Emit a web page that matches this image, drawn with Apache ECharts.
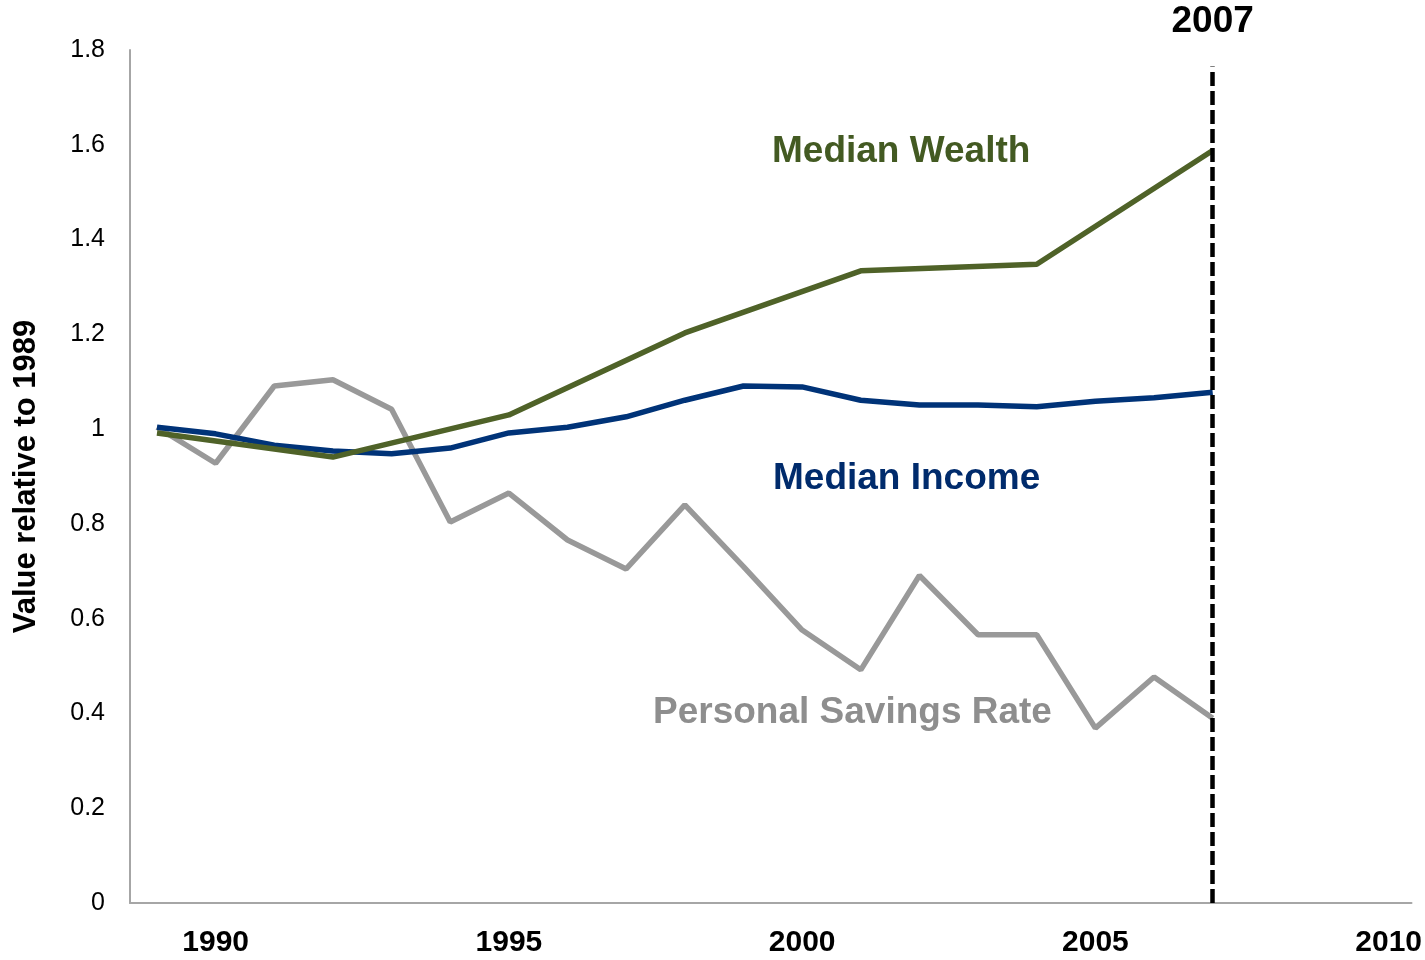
<!DOCTYPE html>
<html>
<head>
<meta charset="utf-8">
<title>Median Wealth, Median Income and Personal Savings Rate</title>
<script src="https://cdn.jsdelivr.net/npm/echarts@6/dist/echarts.min.js"></script>
<style>
  html, body { margin: 0; padding: 0; background: #ffffff; }
  #chart { width: 1425px; height: 960px; }
</style>
</head>
<body>
<div id="chart"></div>
<script>
// Years covered by the series (values are relative to 1989)
const years = [1989, 1990, 1991, 1992, 1993, 1994, 1995, 1996, 1997, 1998,
               1999, 2000, 2001, 2002, 2003, 2004, 2005, 2006, 2007];

// Median household wealth: survey years only (every third year)
const medianWealth = [0.992, null, null, 0.941, null, null, 1.030, null, null, 1.203,
                      null, null, 1.334, null, null, 1.348, null, null, 1.588];

// Median household income
const medianIncome = [1.004, 0.990, 0.966, 0.954, 0.948, 0.960, 0.992, 1.004, 1.026, 1.061,
                      1.091, 1.089, 1.061, 1.051, 1.051, 1.047, 1.059, 1.066, 1.078];

// Personal savings rate
const savingsRate = [1.004, 0.928, 1.091, 1.104, 1.042, 0.804, 0.865, 0.766, 0.705, 0.840,
                     0.710, 0.576, 0.492, 0.691, 0.566, 0.566, 0.369, 0.477, 0.390];

// Year labels on the horizontal axis
const xTickYears = [1990, 1995, 2000, 2005, 2010];

// Highlighted year (dashed marker) and its top value
const markerYear = 2007;
const markerTop = 1.765;

const FONT = '"Liberation Sans", Arial, Helvetica, sans-serif';
const GREEN = '#4F6228';
const NAVY = '#003378';
const GRAY = '#999999';

const pairs = (vals) => years.map((y, i) => [y, vals[i]]);

const chart = echarts.init(document.getElementById('chart'), null, { renderer: 'canvas' });

chart.setOption({
  animation: false,
  backgroundColor: '#ffffff',
  grid: { left: 130, right: 13, top: 50, bottom: 57, containLabel: false },
  xAxis: {
    type: 'value',
    min: 1988.54,
    max: 2010.39,
    axisLine: { show: true, lineStyle: { color: '#A6A6A6', width: 2 } },
    axisTick: { show: false },
    splitLine: { show: false },
    axisLabel: {
      customValues: xTickYears,
      formatter: (v) => String(v),
      fontFamily: FONT,
      fontSize: 30,
      fontWeight: 'bold',
      color: '#000000',
      margin: 25
    }
  },
  yAxis: {
    type: 'value',
    min: 0,
    max: 1.8,
    interval: 0.2,
    name: 'Value relative to 1989',
    nameLocation: 'middle',
    nameRotate: 90,
    nameGap: 88,
    nameTextStyle: { fontFamily: FONT, fontSize: 31, fontWeight: 'bold', color: '#000000' },
    axisLine: { show: true, lineStyle: { color: '#A6A6A6', width: 2 } },
    axisTick: { show: false },
    splitLine: { show: false },
    axisLabel: {
      fontFamily: FONT,
      fontSize: 25,
      color: '#000000',
      margin: 25,
      formatter: (v) => String(Math.round(v * 10) / 10)
    }
  },
  series: [
    {
      name: 'Personal Savings Rate',
      type: 'line',
      data: pairs(savingsRate),
      symbol: 'none',
      lineStyle: { color: GRAY, width: 5.5 },
      z: 2
    },
    {
      name: 'Median Income',
      type: 'line',
      data: pairs(medianIncome),
      symbol: 'none',
      lineStyle: { color: NAVY, width: 5.5 },
      z: 3,
      markLine: {
        silent: true,
        symbol: ['none', 'none'],
        lineStyle: { color: '#000000', width: 4.5, type: [14, 5] },
        label: {
          show: true,
          position: 'end',
          distance: 26,
          formatter: () => String(markerYear),
          fontFamily: FONT,
          fontSize: 37,
          fontWeight: 'bold',
          color: '#000000'
        },
        data: [[{ coord: [markerYear, 0] }, { coord: [markerYear, markerTop] }]]
      }
    },
    {
      name: 'Median Wealth',
      type: 'line',
      data: pairs(medianWealth),
      connectNulls: true,
      symbol: 'none',
      lineStyle: { color: GREEN, width: 5.5 },
      z: 4
    }
  ],
  graphic: [
    {
      type: 'text', x: 772, y: 152,
      style: { text: 'Median Wealth', font: 'bold 37px ' + FONT, fill: '#435A22', align: 'left', verticalAlign: 'middle' }
    },
    {
      type: 'text', x: 773, y: 479,
      style: { text: 'Median Income', font: 'bold 37px ' + FONT, fill: '#002B6C', align: 'left', verticalAlign: 'middle' }
    },
    {
      type: 'text', x: 653, y: 713,
      style: { text: 'Personal Savings Rate', font: 'bold 37px ' + FONT, fill: '#8E8E8E', align: 'left', verticalAlign: 'middle' }
    }
  ]
});
</script>
</body>
</html>
